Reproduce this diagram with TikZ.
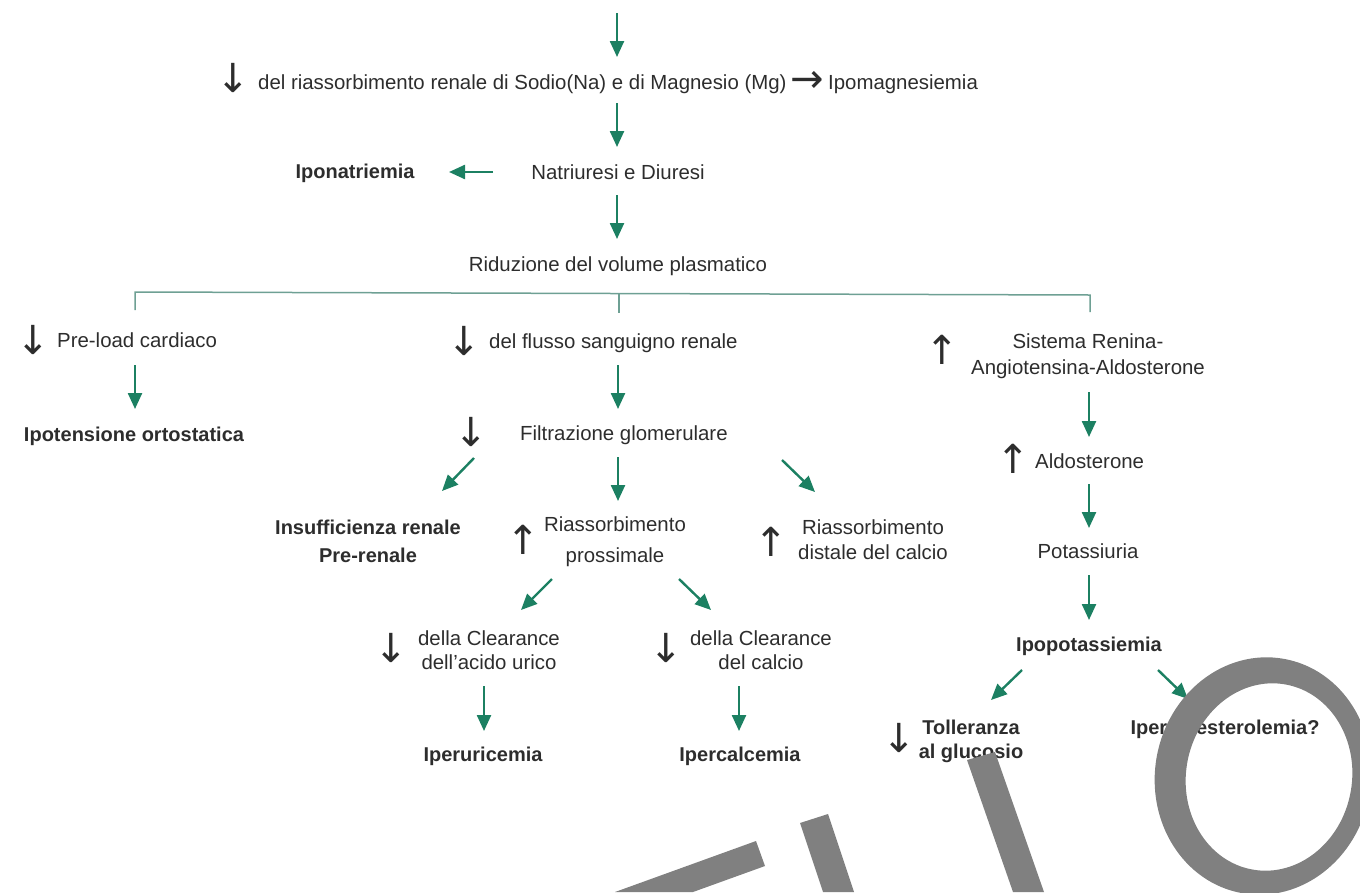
\documentclass[tikz,border=0pt]{standalone}
\usepackage{fontspec}
\setmainfont{Liberation Sans}
\newfontfamily\symfont{DejaVu Sans}
\usetikzlibrary{arrows.meta}
\definecolor{gr}{RGB}{28,128,98}
\definecolor{br}{RGB}{110,160,148}
\definecolor{tx}{RGB}{45,45,45}
\definecolor{wm}{RGB}{128,128,128}
\begin{document}
\begin{tikzpicture}[x=1pt,y=-1pt,
  txt/.style={font=\fontsize{20.4}{26}\selectfont, text=tx, inner sep=0pt},
  bold/.style={font=\fontsize{20}{26}\selectfont\bfseries, text=tx, inner sep=0pt},
  sym/.style={font=\symfont\fontsize{40}{40}\selectfont, text=tx, inner sep=0pt},
  garrow/.style={draw=gr, line width=2.4pt, -{Triangle[length=16pt,width=14pt]}},
  brk/.style={draw=br, line width=1.5pt},
  wmark/.style={fill=wm, draw=none}]
\useasboundingbox (0,0) rectangle (1360,892);

% ---- text nodes ----
\node[sym] (d1) at (233,78) {↓};
\node[txt, anchor=base west] (riass) at (258,89) {del riassorbimento renale di Sodio(Na) e di Magnesio (Mg)};
\node[sym] (r1) at (807,82) {→};
\node[txt, anchor=base west] (ipomg) at (828,89) {Ipomagnesiemia};
\node[txt, anchor=base] (natr) at (618,179) {Natriuresi e Diuresi};
\node[bold, anchor=base] (iponat) at (355,178) {Iponatriemia};
\node[txt, anchor=base] (rid) at (618,271) {Riduzione del volume plasmatico};

\node[sym] (d2) at (33,340) {↓};
\node[txt, anchor=base west] (preload) at (57,347) {Pre-load cardiaco};
\node[bold, anchor=base] (ipot) at (134,441) {Ipotensione ortostatica};

\node[sym] (d3) at (464,341) {↓};
\node[txt, anchor=base west] (flusso) at (489,348) {del flusso sanguigno renale};
\node[sym] (d4) at (471,432) {↓};
\node[txt, anchor=base west] (filtr) at (520,440) {Filtrazione glomerulare};

\node[bold, align=center, font=\fontsize{20}{28}\selectfont\bfseries] (insuff) at (368,541) {Insufficienza renale\\Pre-renale};
\node[sym] (u1) at (523,540) {↑};
\node[txt, align=center, font=\fontsize{20.4}{31}\selectfont] (prox) at (615,542) {Riassorbimento\\prossimale};
\node[sym] (u2) at (771,542) {↑};
\node[txt, align=center, font=\fontsize{20.4}{25}\selectfont] (dist) at (873,539.5) {Riassorbimento\\distale del calcio};

\node[sym] (d5) at (391,648) {↓};
\node[txt, align=center, font=\fontsize{20.4}{24}\selectfont] (clur) at (489,650) {della Clearance\\dell'acido urico};
\node[sym] (d6) at (666,648) {↓};
\node[txt, align=center, font=\fontsize{20.4}{24}\selectfont] (clca) at (761,650) {della Clearance\\del calcio};
\node[bold, anchor=base] (iperur) at (483,761) {Iperuricemia};
\node[bold, anchor=base] (iperca) at (740,761) {Ipercalcemia};

\node[sym] (u3) at (942,350) {↑};
\node[txt, align=center, font=\fontsize{20.4}{26}\selectfont] (raas) at (1088,356) {Sistema Renina-\\Angiotensina-Aldosterone};
\node[sym] (u4) at (1013,459) {↑};
\node[txt, anchor=base west] (aldo) at (1035,468) {Aldosterone};
\node[txt, anchor=base] (potas) at (1088,558) {Potassiuria};
\node[bold, anchor=base] (ipopot) at (1089,651) {Ipopotassiemia};
\node[sym] (d7) at (899,738) {↓};
\node[bold, align=center, font=\fontsize{20}{24}\selectfont\bfseries] (toll) at (971,741) {Tolleranza\\al glucosio};
\node[bold, anchor=base] (ipercol) at (1225,734) {Ipercolesterolemia?};

% ---- arrow end points ----
\coordinate (a1s) at (617,13);   \coordinate (a1e) at (617,57);
\coordinate (a2s) at (617,103);  \coordinate (a2e) at (617,147);
\coordinate (a3s) at (493,172);  \coordinate (a3e) at (449,172);
\coordinate (a4s) at (617,195);  \coordinate (a4e) at (617,239);
\coordinate (a5s) at (135,365);  \coordinate (a5e) at (135,409);
\coordinate (a6s) at (618,365);  \coordinate (a6e) at (618,409);
\coordinate (a7s) at (474,458);  \coordinate (a7e) at (442,491);
\coordinate (a8s) at (618,457);  \coordinate (a8e) at (618,501);
\coordinate (a9s) at (782,460);  \coordinate (a9e) at (815,492);
\coordinate (b1s) at (552,579);  \coordinate (b1e) at (521,610);
\coordinate (b2s) at (679,579);  \coordinate (b2e) at (711,610);
\coordinate (b3s) at (484,686);  \coordinate (b3e) at (484,731);
\coordinate (b4s) at (739,686);  \coordinate (b4e) at (739,731);
\coordinate (c1s) at (1089,392); \coordinate (c1e) at (1089,437);
\coordinate (c2s) at (1089,484); \coordinate (c2e) at (1089,528);
\coordinate (c3s) at (1089,575); \coordinate (c3e) at (1089,620);
\coordinate (c4s) at (1022,670); \coordinate (c4e) at (991,700);
\coordinate (c5s) at (1158,670); \coordinate (c5e) at (1188,699);

\foreach \p in {a1,a2,a3,a4,a5,a6,a7,a8,a9,b1,b2,b3,b4,c1,c2,c3,c4,c5}
  \draw[garrow] (\p s) -- (\p e);

% ---- bracket ----
\coordinate (kl) at (135,310); \coordinate (kla) at (135,292);
\coordinate (kr) at (1090,312); \coordinate (kra) at (1090,295);
\coordinate (km) at (619,313); \coordinate (kma) at (619,293.5);
\draw[brk] (kl) -- (kla) -- (kra) -- (kr);
\draw[brk] (kma) -- (km);

% ---- watermark shapes ----
\fill[wmark] (756,841) -- (765,866) -- (693,892) -- (615,892) -- cycle;
\fill[wmark] (800,823) -- (828,814) -- (854,892) -- (823,892) -- cycle;
\fill[wmark] (967,760) -- (995,752) -- (1044,892) -- (1013,892) -- cycle;
\fill[wmark, even odd rule]
  (1263,776) ellipse [x radius=108pt, y radius=119pt, rotate=-10]
  (1269,777) ellipse [x radius=83pt, y radius=94pt, rotate=-10];
\end{tikzpicture}
\end{document}
